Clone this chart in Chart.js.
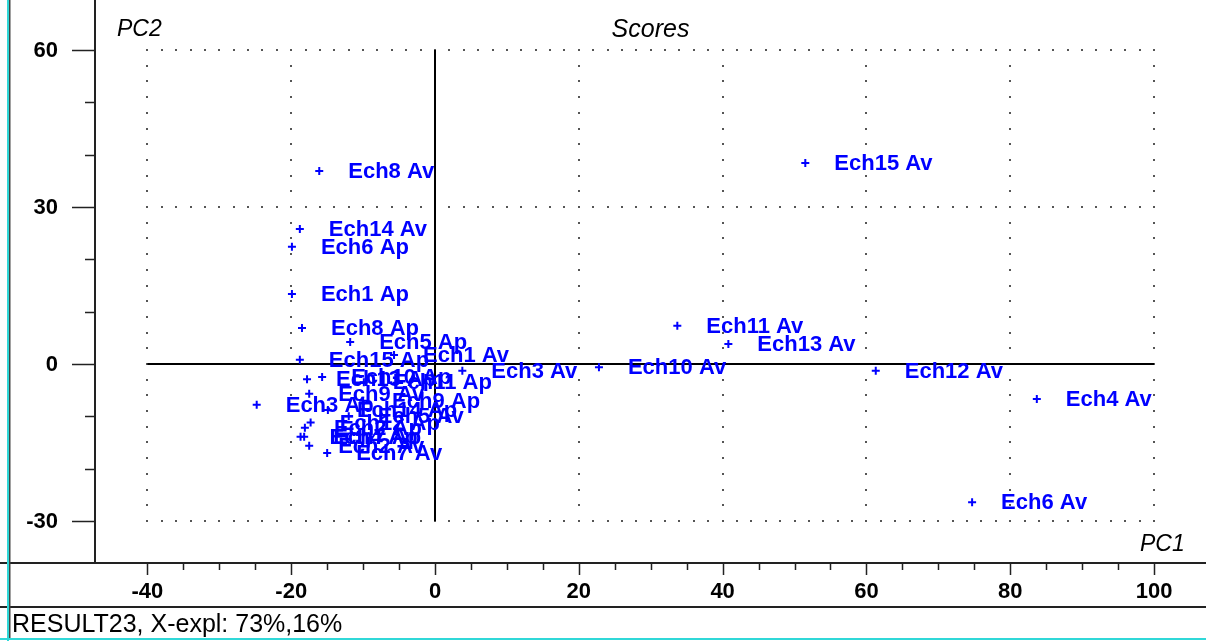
<!DOCTYPE html>
<html>
<head>
<meta charset="utf-8">
<script src="https://cdn.jsdelivr.net/npm/chart.js@4/dist/chart.umd.min.js"></script>
<style>
  html, body { margin: 0; padding: 0; background: #fff; }
  #wrap { position: relative; width: 1206px; height: 641px; }
</style>
</head>
<body>
<div id="wrap"><canvas id="c" width="1206" height="641"></canvas></div>
<script>
// ---- data ----
const sampleNames = [
  'Ech1 Ap','Ech2 Ap','Ech3 Ap','Ech4 Ap','Ech5 Ap','Ech6 Ap','Ech7 Ap','Ech8 Ap',
  'Ech9 Ap','Ech10 Ap','Ech11 Ap','Ech12 Ap','Ech13 Ap','Ech14 Ap','Ech15 Ap',
  'Ech1 Av','Ech2 Av','Ech3 Av','Ech4 Av','Ech5 Av','Ech6 Av','Ech7 Av','Ech8 Av',
  'Ech9 Av','Ech10 Av','Ech11 Av','Ech12 Av','Ech13 Av','Ech14 Av','Ech15 Av'
];
const pc1Scores = [
  -19.9, -18.1, -24.8, -18.7, -11.8, -19.9, -18.2, -18.5,
  -10.0, -15.7, -9.9, -17.3, -17.8, -14.9, -18.8,
  -5.7, -17.5, 3.8, 83.7, -12.0, 74.7, -15.0, -16.1,
  -17.5, 22.8, 33.7, 61.3, 40.8, -18.8, 51.5
];
const pc2Scores = [
  13.4, -12.2, -7.8, -13.9, 4.2, 22.4, -13.9, 6.9,
  -7.0, -2.5, -3.5, -11.2, -2.9, -8.8, 0.8,
  1.7, -15.6, -1.3, -6.7, -10.0, -26.4, -17.0, 36.9,
  -5.7, -0.6, 7.3, -1.3, 3.8, 25.8, 38.4
];
const xTickValues = [-40, -20, 0, 20, 40, 60, 80, 100];
const yTickValues = [-30, 0, 30, 60];
const xMinorPerMajor = 4;   // minor ticks every 5
const yMinorPerMajor = 3;   // minor ticks every 10
const gridDotStepX = 2;
const gridDotStepY = 3;
const chartTitle = 'Scores';
const xAxisName = 'PC1';
const yAxisName = 'PC2';
const statusText = 'RESULT23, X-expl: 73%,16%';

const BLUE = '#0000ff';
const FONT = '"Liberation Sans", Arial, Helvetica, sans-serif';

const points = pc1Scores.map((x, i) => ({ x: x, y: pc2Scores[i] }));

const decor = {
  id: 'decor',
  beforeDatasetsDraw(chart) {
    const ctx = chart.ctx;
    const xs = chart.scales.x, ys = chart.scales.y;
    const xMin = xTickValues[0], xMax = xTickValues[xTickValues.length - 1];
    const yMin = yTickValues[0], yMax = yTickValues[yTickValues.length - 1];
    ctx.save();
    ctx.fillStyle = '#555';
    // dotted vertical grid lines
    xTickValues.forEach(v => {
      if (v === 0) return;
      const px = Math.round(xs.getPixelForValue(v));
      for (let y = yMin; y <= yMax + 1e-9; y += gridDotStepY) {
        const py = Math.round(ys.getPixelForValue(y));
        ctx.fillRect(px - 1, py - 1, 2, 2);
      }
    });
    // dotted horizontal grid lines
    yTickValues.forEach(v => {
      if (v === 0) return;
      const py = Math.round(ys.getPixelForValue(v));
      for (let x = xMin; x <= xMax + 1e-9; x += gridDotStepX) {
        const px = Math.round(xs.getPixelForValue(x));
        ctx.fillRect(px - 1, py - 1, 2, 2);
      }
    });
    // solid zero lines
    ctx.strokeStyle = '#000';
    ctx.lineWidth = 2;
    ctx.beginPath();
    const x0 = Math.round(xs.getPixelForValue(0));
    ctx.moveTo(x0, ys.getPixelForValue(yMax));
    ctx.lineTo(x0, ys.getPixelForValue(yMin));
    const y0 = Math.round(ys.getPixelForValue(0));
    ctx.moveTo(xs.getPixelForValue(xMin), y0);
    ctx.lineTo(xs.getPixelForValue(xMax), y0);
    ctx.stroke();
    ctx.restore();
  },
  afterDatasetsDraw(chart) {
    const ctx = chart.ctx;
    const meta = chart.getDatasetMeta(0);
    ctx.save();
    ctx.font = 'bold 22px ' + FONT;
    ctx.fillStyle = BLUE;
    ctx.textBaseline = 'middle';
    ctx.textAlign = 'left';
    meta.data.forEach((el, i) => {
      ctx.fillText(sampleNames[i], el.x + 29, el.y + 1);
    });
    ctx.restore();
  },
  afterDraw(chart) {
    const ctx = chart.ctx;
    const xs = chart.scales.x, ys = chart.scales.y;
    const area = chart.chartArea;
    const W = chart.width, H = chart.height;
    ctx.save();
    ctx.strokeStyle = '#222';
    ctx.lineWidth = 2;
    // axis lines
    ctx.beginPath();
    ctx.moveTo(area.left, 0);
    ctx.lineTo(area.left, area.bottom);
    ctx.moveTo(0, area.bottom);
    ctx.lineTo(W, area.bottom);
    ctx.moveTo(0, 607);
    ctx.lineTo(W, 607);
    ctx.stroke();
    // x ticks
    ctx.lineWidth = 1.5;
    ctx.beginPath();
    for (let i = 0; i < xTickValues.length; i++) {
      const v = xTickValues[i];
      const px = Math.round(xs.getPixelForValue(v)) + 0.5;
      ctx.moveTo(px, area.bottom);
      ctx.lineTo(px, area.bottom + 12);
      if (i < xTickValues.length - 1) {
        const step = (xTickValues[i + 1] - v) / xMinorPerMajor;
        for (let k = 1; k < xMinorPerMajor; k++) {
          const mx = Math.round(xs.getPixelForValue(v + k * step)) + 0.5;
          ctx.moveTo(mx, area.bottom);
          ctx.lineTo(mx, area.bottom + 7);
        }
      }
    }
    // y ticks
    for (let i = 0; i < yTickValues.length; i++) {
      const v = yTickValues[i];
      const py = Math.round(ys.getPixelForValue(v)) + 0.5;
      ctx.moveTo(area.left, py);
      ctx.lineTo(area.left - 23, py);
      if (i < yTickValues.length - 1) {
        const step = (yTickValues[i + 1] - v) / yMinorPerMajor;
        for (let k = 1; k < yMinorPerMajor; k++) {
          const my = Math.round(ys.getPixelForValue(v + k * step)) + 0.5;
          ctx.moveTo(area.left, my);
          ctx.lineTo(area.left - 10, my);
        }
      }
    }
    ctx.stroke();
    // tick labels
    ctx.fillStyle = '#000';
    ctx.font = 'bold 22px ' + FONT;
    ctx.textBaseline = 'middle';
    ctx.textAlign = 'center';
    xTickValues.forEach(v => {
      ctx.fillText(String(v), xs.getPixelForValue(v), area.bottom + 29);
    });
    ctx.textAlign = 'right';
    yTickValues.forEach(v => {
      ctx.fillText(String(v), area.left - 37, ys.getPixelForValue(v) + 1);
    });
    // titles
    ctx.font = 'italic 25px ' + FONT;
    ctx.textAlign = 'center';
    ctx.fillText(chartTitle, (area.left + area.right) / 2, 30);
    ctx.textAlign = 'left';
    ctx.font = 'italic 23px ' + FONT;
    ctx.fillText(yAxisName, 117, 30);
    ctx.fillText(xAxisName, 1140, 545);
    // status bar
    ctx.font = '25px ' + FONT;
    ctx.fillText(statusText, 12, 625);
    // window border
    ctx.fillStyle = '#30d8d8';
    ctx.fillRect(7, 0, 2, H);
    ctx.fillRect(0, H - 3, W, 2);
    ctx.fillStyle = '#444';
    ctx.fillRect(9, 0, 1.5, H - 3);
    ctx.restore();
  }
};

new Chart(document.getElementById('c'), {
  type: 'scatter',
  data: {
    datasets: [{
      data: points,
      pointStyle: 'cross',
      pointRadius: 4,
      pointBorderWidth: 2,
      borderColor: BLUE,
      backgroundColor: BLUE,
      pointHoverRadius: 4
    }]
  },
  options: {
    responsive: false,
    devicePixelRatio: 1,
    animation: false,
    events: [],
    layout: { autoPadding: false, padding: { left: 95, right: 0, top: 0, bottom: 78 } },
    plugins: { legend: { display: false }, tooltip: { enabled: false }, title: { display: false } },
    scales: {
      x: { type: 'linear', display: false, min: -47.29, max: 107.23 },
      y: { type: 'linear', display: false, min: -38.03, max: 69.56 }
    }
  },
  plugins: [decor]
});
</script>
</body>
</html>
